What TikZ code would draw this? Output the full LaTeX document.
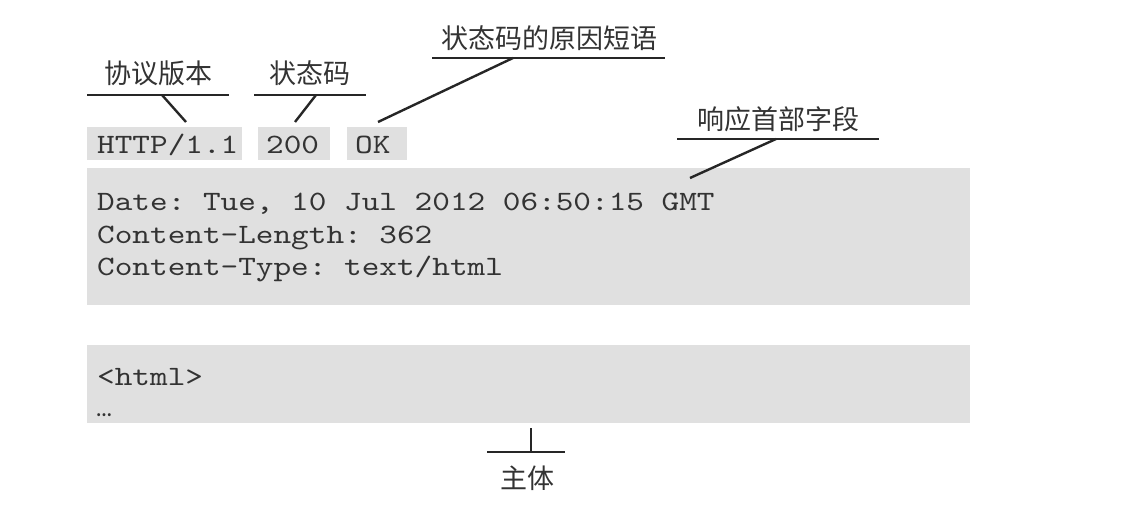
\documentclass[tikz,border=0pt]{standalone}
\usepackage{fontspec}
\setmonofont{lmmono10-regular.otf}[FakeStretch=1.2]
\newfontfamily\cjk{Noto Sans CJK SC}
\begin{document}
\begin{tikzpicture}[x=1pt,y=-1pt,
  graybox/.style={fill=black!12,draw=none,inner sep=0pt},
  code/.style={font=\ttfamily\fontsize{28}{28}\selectfont,anchor=base west,inner sep=0pt,text=black!80},
  lbl/.style={font=\cjk\fontsize{27}{27}\selectfont,inner sep=0pt,text=black!80},
  lead/.style={line width=2.4pt,black!85}]
\useasboundingbox (0,0) rectangle (1134,506);
% boxes
\node[graybox,minimum width=155pt,minimum height=33pt,anchor=north west] (b1) at (87,127) {};
\node[graybox,minimum width=72pt,minimum height=33pt,anchor=north west] (b2) at (258,127) {};
\node[graybox,minimum width=60pt,minimum height=33pt,anchor=north west] (b3) at (347,127) {};
\node[graybox,minimum width=883pt,minimum height=137pt,anchor=north west] (hd) at (87,168) {};
\node[graybox,minimum width=883pt,minimum height=78pt,anchor=north west] (bd) at (87,345) {};
% code text
\node[code] (t1) at (97,153) {HTTP/1.1};
\node[code] (t2) at (266,153) {200};
\node[code] (t3) at (355,153) {OK};
\node[code] (h1) at (97,210) {Date: Tue, 10 Jul 2012 06:50:15 GMT};
\node[code] (h2) at (97,243) {Content-Length: 362};
\node[code] (h3) at (97,275) {Content-Type: text/html};
\node[code] (c1) at (97,385) {<html>};
\node[code,font=\cjk\bfseries\fontsize{14}{14}\selectfont] (c2) at (96,416) {…};
% labels
\node[lbl] (l1) at (158,73) {协议版本};
\node[lbl] (l2) at (310,73) {状态码};
\node[lbl] (l3) at (549,38) {状态码的原因短语};
\node[lbl] (l4) at (778,119) {响应首部字段};
\node[lbl] (l5) at (527,478) {主体};
% underlines
\coordinate (u1a) at (87,95); \coordinate (u1b) at (229,95);
\coordinate (u2a) at (254,95); \coordinate (u2b) at (366,95);
\coordinate (u3a) at (432,58); \coordinate (u3b) at (665,58);
\coordinate (u4a) at (677,139); \coordinate (u4b) at (879,139);
\coordinate (u5a) at (487,452); \coordinate (u5b) at (565,452);
\draw[lead] (u1a) -- (u1b);
\draw[lead] (u2a) -- (u2b);
\draw[lead] (u3a) -- (u3b);
\draw[lead] (u4a) -- (u4b);
\draw[lead] (u5a) -- (u5b);
% leaders
\coordinate (p1) at (162,95); \coordinate (q1) at (186,122);
\coordinate (p2) at (316,95); \coordinate (q2) at (295,122);
\coordinate (p3) at (513,58); \coordinate (q3) at (378,122);
\coordinate (p4) at (776,139); \coordinate (q4) at (690,178);
\coordinate (p5) at (531,452); \coordinate (q5) at (531,428);
\draw[lead] (p1) -- (q1);
\draw[lead] (p2) -- (q2);
\draw[lead] (p3) -- (q3);
\draw[lead] (p4) -- (q4);
\draw[lead] (p5) -- (q5);
\end{tikzpicture}
\end{document}
